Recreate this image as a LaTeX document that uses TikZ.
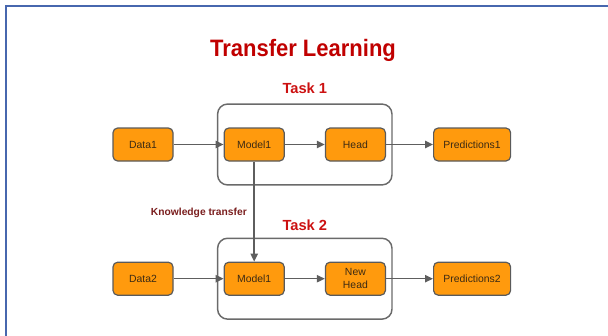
\documentclass[tikz,border=0pt]{standalone}
\usepackage{fontspec}
\setmainfont{Liberation Sans}
\usetikzlibrary{arrows.meta, positioning, fit}

\definecolor{boxorange}{HTML}{FF9A0D}
\definecolor{boxedge}{HTML}{5A5A5A}
\definecolor{boxtext}{HTML}{3B2A14}
\definecolor{titlered}{HTML}{C00000}
\definecolor{taskred}{HTML}{CC1111}
\definecolor{kmaroon}{HTML}{7A1E1E}
\definecolor{linegray}{HTML}{5E5E5E}
\definecolor{framegray}{HTML}{6A6A6A}
\definecolor{frameblue}{HTML}{4767AE}

\begin{document}
\begin{tikzpicture}[
    x=0.75pt, y=-0.75pt,
    node distance=37.5pt,
    >={Triangle[length=6pt, width=5.5pt]},
    block/.style={draw=boxedge, line width=0.9pt, fill=boxorange, rounded corners=3.5pt, minimum width=45pt, minimum height=24.75pt, align=center, inner sep=1pt, text=boxtext, font=\fontsize{7.8}{9.8}\selectfont},
    wideblock/.style={block, minimum width=57.75pt},
    task/.style={draw=framegray, line width=1.1pt, rounded corners=7.5pt, inner xsep=4.5pt, inner ysep=17.5pt},
    tasklabel/.style={text=taskred, font=\fontsize{11}{13}\selectfont\bfseries},
    flow/.style={->, draw=linegray, line width=1.1pt}
]
    \useasboundingbox (0,0) rectangle (608,336);

    % outer frame, cut off on the right and at the bottom
    \draw[frameblue, line width=1.5pt] (608,6) -- (6,6) -- (6,336);

    % Title
    \node[text=titlered, font=\fontsize{16.5}{20}\selectfont\bfseries, yscale=1.08] (title) at (303,50) {Transfer Learning};

    % Task 1 row
    \node[block] (data1) at (143,144.5) {Data1};
    \node[block, right=37.5pt of data1] (model1) {Model1};
    \node[block, right=30pt of model1] (head) {Head};
    \node[wideblock, right=35.25pt of head] (pred1) {Predictions1};

    % Task 2 row
    \node[block, below=75pt of data1] (data2) {Data2};
    \node[block, right=37.5pt of data2] (model2) {Model1};
    \node[block, right=30pt of model2] (newhead) {New\\Head};
    \node[wideblock, right=35.25pt of newhead] (pred2) {Predictions2};

    % Task frames
    \node[task, fit=(model1)(head)] (task1) {};
    \node[task, fit=(model2)(newhead)] (task2) {};
    \node[tasklabel, above=4pt of task1] (task1label) {Task 1};
    \node[tasklabel, above=2pt of task2] (task2label) {Task 2};

    % Connections
    \draw[flow] (data1) -- (model1);
    \draw[flow] (model1) -- (head);
    \draw[flow] (head) -- (pred1);
    \draw[flow] (data2) -- (model2);
    \draw[flow] (model2) -- (newhead);
    \draw[flow] (newhead) -- (pred2);
    \draw[flow] (model1) -- (model2)
        node[pos=0.51, left, inner sep=5pt, text=kmaroon, font=\fontsize{7.7}{9}\selectfont\bfseries] (ktlabel) {Knowledge transfer};

\end{tikzpicture}
\end{document}
